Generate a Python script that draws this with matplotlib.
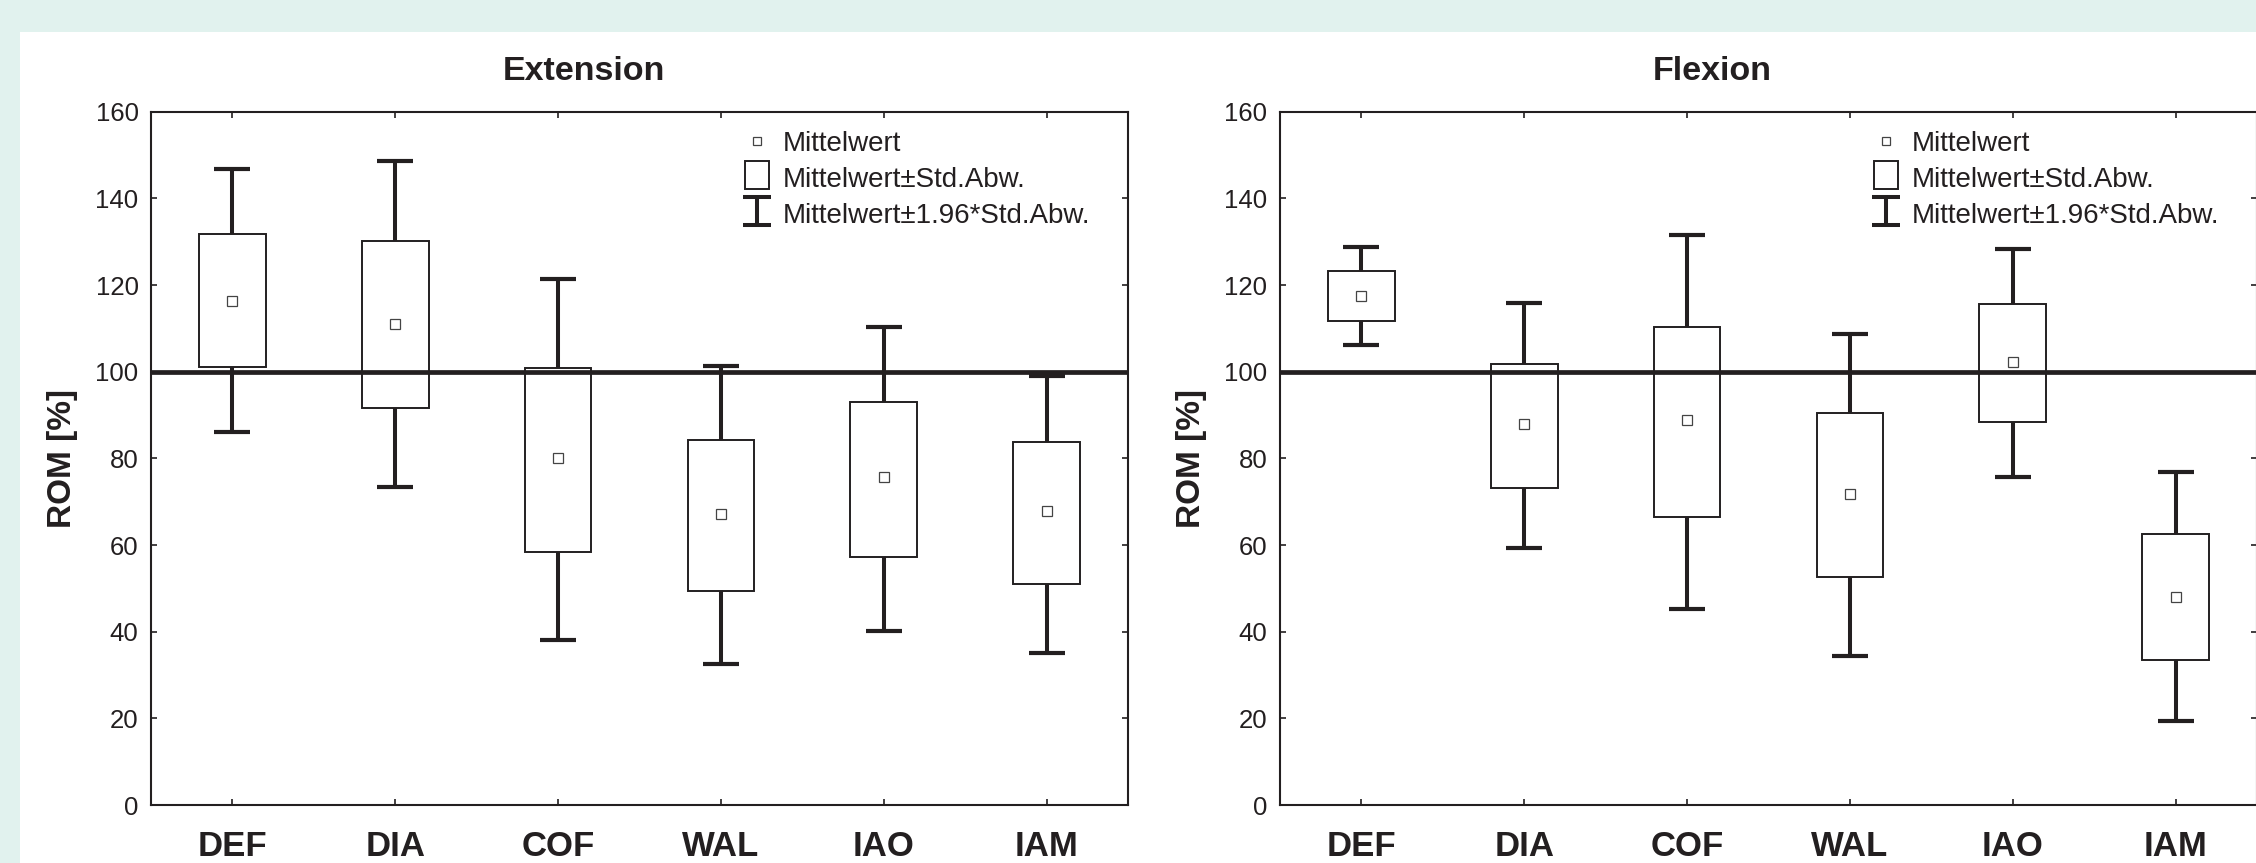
import matplotlib
matplotlib.use("Agg")
from matplotlib import pyplot as plt
from matplotlib.patches import Rectangle
from matplotlib.lines import Line2D
from matplotlib.legend_handler import HandlerBase
from matplotlib.container import BarContainer, ErrorbarContainer
import numpy as np

plt.rcParams['font.family'] = ['Liberation Sans', 'DejaVu Sans']

categories = ['DEF', 'DIA', 'COF', 'WAL', 'IAO', 'IAM']

# Extension (ROM in %)
ext_mean = [116.4, 111.0, 80.0, 67.2, 75.6, 67.8]
ext_box_hi = [131.8, 130.2, 100.8, 84.2, 93.0, 83.7]
ext_box_lo = [101.0, 91.7, 58.3, 49.3, 57.3, 50.9]
ext_wh_hi = [146.8, 148.6, 121.3, 101.2, 110.2, 99.0]
ext_wh_lo = [86.0, 73.3, 38.0, 32.6, 40.1, 35.0]

# Flexion (ROM in %)
flex_mean = [117.5, 88.0, 88.9, 71.7, 102.2, 48.0]
flex_box_hi = [123.2, 101.8, 110.3, 90.5, 115.6, 62.6]
flex_box_lo = [111.7, 73.1, 66.4, 52.7, 88.5, 33.4]
flex_wh_hi = [128.8, 115.8, 131.6, 108.7, 128.4, 76.8]
flex_wh_lo = [106.2, 59.3, 45.3, 34.5, 75.6, 19.4]

y_ticks = [0, 20, 40, 60, 80, 100, 120, 140, 160]
ref_level = 100

INK = '#231f20'
MINT = '#e1f2ee'
W, H = 2256, 863


class BoxHandler(HandlerBase):
    def create_artists(self, legend, orig_handle, xdescent, ydescent,
                       width, height, fontsize, trans):
        _cx = -xdescent + width / 2
        _cy = -ydescent + height / 2 + 1.5
        _w, _h = 17.3, 19.5
        _r = Rectangle((_cx - _w / 2, _cy - _h / 2), _w, _h, facecolor='white',
                       edgecolor=INK, lw=1.4, transform=trans)
        return [_r]


class RangeHandler(HandlerBase):
    def create_artists(self, legend, orig_handle, xdescent, ydescent,
                       width, height, fontsize, trans):
        _cx = -xdescent + width / 2
        _cy = -ydescent + height / 2 + 1.5
        _w, _h = 20.0, 20.5
        _kw = dict(color=INK, lw=2.9, transform=trans, solid_capstyle='butt')
        return [
            Line2D([_cx, _cx], [_cy - _h / 2, _cy + _h / 2], **_kw),
            Line2D([_cx - _w / 2, _cx + _w / 2], [_cy + _h / 2] * 2, **_kw),
            Line2D([_cx - _w / 2, _cx + _w / 2], [_cy - _h / 2] * 2, **_kw),
        ]


def plot_panel(ax, title, mean, box_lo, box_hi, wh_lo, wh_hi):
    _x = np.arange(len(categories))
    _mean = np.array(mean)

    _eb = ax.errorbar(_x, _mean, yerr=[_mean - np.array(wh_lo), np.array(wh_hi) - _mean],
                      fmt='none', ecolor=INK, elinewidth=2.9, capsize=13, capthick=3.0,
                      zorder=2)
    _bars = ax.bar(_x, np.array(box_hi) - np.array(box_lo), bottom=box_lo, width=0.41,
                   facecolor='white', edgecolor=INK, lw=1.4, zorder=3)
    ax.axhline(ref_level, color=INK, lw=3.4, zorder=4)
    _pts, = ax.plot(_x, _mean, ls='none', marker='s', ms=7.5, mfc='white', mec='#444444',
                    mew=0.9, zorder=5)

    ax.set_xlim(-0.5, len(categories) - 0.5)
    ax.set_ylim(0, 160)
    ax.set_xticks(_x)
    ax.set_xticklabels(categories, fontsize=25, fontweight='bold', color=INK)
    ax.set_yticks(y_ticks)
    ax.set_yticklabels([str(v) for v in y_ticks], fontsize=18.5, color=INK)
    ax.tick_params(axis='both', direction='in', top=True, right=True, length=4,
                   width=1.2, color=INK)
    ax.tick_params(axis='x', pad=18)
    ax.tick_params(axis='y', pad=9)
    for _s in ax.spines.values():
        _s.set_linewidth(1.5)
        _s.set_color(INK)

    ax.set_ylabel('ROM [%]', fontsize=24, fontweight='bold', color=INK)
    ax.yaxis.set_label_coords(-0.075, 0.5)

    ax.legend([_pts, _bars, _eb],
              ['Mittelwert', 'Mittelwert\u00b1Std.Abw.', 'Mittelwert\u00b11.96*Std.Abw.'],
              handler_map={BarContainer: BoxHandler(), ErrorbarContainer: RangeHandler()},
              loc='upper left', bbox_to_anchor=(0.606, 0.972), frameon=False,
              fontsize=20, numpoints=1, markerscale=0.8, handlelength=1.0,
              handletextpad=0.42, labelspacing=0.35, borderpad=0, borderaxespad=0,
              labelcolor=INK)


fig = plt.figure(figsize=(W / 100, H / 100), dpi=100, facecolor=MINT)
fig.add_artist(Rectangle((20 / W, 0), 1, (H - 32) / H, transform=fig.transFigure,
                         facecolor='white', edgecolor='none', zorder=-1))

_ax_w = 977 / W
_ax_h = 693.3 / H
_ax_y = 1 - 805 / H
ax_ext = fig.add_axes([151 / W, _ax_y, _ax_w, _ax_h])
ax_flex = fig.add_axes([1280 / W, _ax_y, _ax_w, _ax_h])

plot_panel(ax_ext, 'Extension', ext_mean, ext_box_lo, ext_box_hi, ext_wh_lo, ext_wh_hi)
plot_panel(ax_flex, 'Flexion', flex_mean, flex_box_lo, flex_box_hi, flex_wh_lo, flex_wh_hi)

fig.text(584 / W, 1 - 71 / H, 'Extension', fontsize=24.5, fontweight='bold', color=INK,
         ha='center', va='center')
fig.text(1712 / W, 1 - 71 / H, 'Flexion', fontsize=24.5, fontweight='bold', color=INK,
         ha='center', va='center')

fig.savefig('out.png', dpi=100, facecolor=fig.get_facecolor())
plt.close(fig)
